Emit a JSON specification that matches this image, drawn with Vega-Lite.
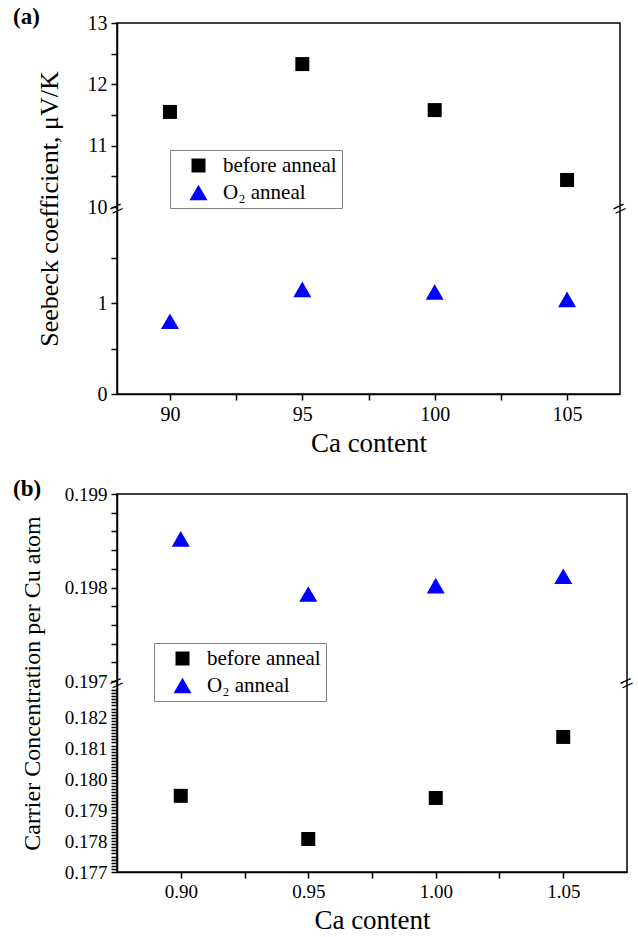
{
  "$schema": "https://vega.github.io/schema/vega-lite/v6.json",
  "padding": {"left": 12, "top": 5, "right": 5, "bottom": 5},
  "spacing": 20,
  "config": {
    "font": "Liberation Serif",
    "view": {"stroke": "black", "strokeWidth": 1.5},
    "axis": {"grid": false, "domainColor": "black", "domainWidth": 1.5, "tickColor": "black", "tickWidth": 1.5, "labelColor": "black", "titleColor": "black", "titleFontWeight": "normal", "labelFlush": false, "labelOverlap": false, "labelFont": "Liberation Serif", "titleFont": "Liberation Serif"},
    "legend": {"labelColor": "black", "labelFont": "Liberation Serif"},
    "title": {"color": "black", "font": "Liberation Serif"}
  },
  "resolve": {
    "scale": {"color": "independent", "shape": "independent", "size": "independent"},
    "legend": {"color": "independent", "shape": "independent", "size": "independent"}
  },
  "vconcat": [
    {
      "title": {"text": "(a)", "anchor": "start", "frame": "group", "fontSize": 23, "fontWeight": "bold", "dx": -104, "dy": 20},
      "width": 503,
      "height": 371,
      "data": {"values": [
        {"ca": 90, "s": 11.55, "series": "before anneal"},
        {"ca": 95, "s": 12.33, "series": "before anneal"},
        {"ca": 100, "s": 11.58, "series": "before anneal"},
        {"ca": 105, "s": 10.44, "series": "before anneal"},
        {"ca": 90, "s": 0.80, "series": "O₂ anneal"},
        {"ca": 95, "s": 1.15, "series": "O₂ anneal"},
        {"ca": 100, "s": 1.12, "series": "O₂ anneal"},
        {"ca": 105, "s": 1.04, "series": "O₂ anneal"}
      ]},
      "resolve": {"axis": {"x": "independent", "y": "independent"}},
      "layer": [
        {
          "mark": {"type": "point", "filled": true, "opacity": 1},
          "encoding": {
            "x": {"field": "ca", "type": "quantitative",
              "scale": {"domain": [88, 107], "nice": false, "zero": false},
              "axis": {"orient": "bottom", "values": [90, 92.5, 95, 97.5, 100, 102.5, 105],
                "labelExpr": "datum.value % 5 === 0 ? datum.label : ''", "tickSize": 6,
                "title": "Ca content", "titleFontSize": 27, "labelFontSize": 20, "labelPadding": 4, "titlePadding": 6}},
            "y": {"field": "s", "type": "quantitative",
              "scale": {"domain": [0, 2, 10, 13], "range": [371, 189, 184, 0], "nice": false, "zero": false},
              "axis": {"orient": "left", "values": [0, 0.5, 1, 1.5, 10, 10.5, 11, 11.5, 12, 12.5, 13],
                "labelExpr": "datum.value % 1 === 0 ? datum.label : ''", "tickSize": 6,
                "title": "Seebeck coefficient, μV/K", "titleFontSize": 26, "labelFontSize": 20, "labelPadding": 4, "titlePadding": 25}},
            "shape": {"field": "series", "type": "nominal",
              "scale": {"domain": ["before anneal", "O₂ anneal"], "range": ["square", "triangle-up"]},
              "legend": {"orient": "none", "legendX": 53, "legendY": 127, "title": null, "strokeColor": "#808080", "fillColor": "white", "padding": 5, "labelFontSize": 21, "labelFont": "Liberation Serif", "symbolOffset": 13, "labelOffset": 14, "rowPadding": 5}},
            "color": {"field": "series", "type": "nominal",
              "scale": {"domain": ["before anneal", "O₂ anneal"], "range": ["#000000", "#0000ff"]}},
            "size": {"field": "series", "type": "nominal",
              "scale": {"domain": ["before anneal", "O₂ anneal"], "range": [196, 324]}}
          }
        },
        {
          "data": {"values": [{"ca": 88, "s": 6, "t": "="}, {"ca": 107, "s": 6, "t": "="}]},
          "mark": {"type": "text", "angle": -25, "fontSize": 24, "align": "center", "baseline": "middle", "color": "black"},
          "encoding": {
            "x": {"field": "ca", "type": "quantitative", "axis": null},
            "y": {"field": "s", "type": "quantitative", "axis": null},
            "text": {"field": "t"}
          }
        }
      ]
    },
    {
      "title": {"text": "(b)", "anchor": "start", "frame": "group", "fontSize": 23, "fontWeight": "bold", "dx": -104, "dy": 20},
      "width": 510,
      "height": 378,
      "data": {"values": [
        {"ca": 0.90, "n": 0.17947, "series": "before anneal"},
        {"ca": 0.95, "n": 0.17807, "series": "before anneal"},
        {"ca": 1.00, "n": 0.1794, "series": "before anneal"},
        {"ca": 1.05, "n": 0.18138, "series": "before anneal"},
        {"ca": 0.90, "n": 0.19852, "series": "O₂ anneal"},
        {"ca": 0.95, "n": 0.19793, "series": "O₂ anneal"},
        {"ca": 1.00, "n": 0.19802, "series": "O₂ anneal"},
        {"ca": 1.05, "n": 0.19812, "series": "O₂ anneal"}
      ]},
      "resolve": {"axis": {"x": "independent", "y": "independent"}},
      "layer": [
        {
          "mark": {"type": "point", "filled": true, "opacity": 1},
          "encoding": {
            "x": {"field": "ca", "type": "quantitative",
              "scale": {"domain": [0.875, 1.075], "nice": false, "zero": false},
              "axis": {"orient": "bottom", "values": [0.9, 0.925, 0.95, 0.975, 1.0, 1.025, 1.05], "format": ".2f",
                "labelExpr": "abs(datum.value * 20 - round(datum.value * 20)) < 0.000001 ? datum.label : ''", "tickSize": 6,
                "title": "Ca content", "titleFontSize": 27, "labelFontSize": 19, "labelPadding": 4, "titlePadding": 6}},
            "y": {"field": "n", "type": "quantitative",
              "scale": {"domain": [0.177, 0.183, 0.197, 0.199], "range": [378, 193, 187, 0], "nice": false, "zero": false},
              "axis": {"orient": "left", "format": ".3f",
                "values": [0.177, 0.1771, 0.1772, 0.1773, 0.1774, 0.1775, 0.1776, 0.1777, 0.1778, 0.1779, 0.178, 0.1781, 0.1782, 0.1783, 0.1784, 0.1785, 0.1786, 0.1787, 0.1788, 0.1789, 0.179, 0.1791, 0.1792, 0.1793, 0.1794, 0.1795, 0.1796, 0.1797, 0.1798, 0.1799, 0.18, 0.1801, 0.1802, 0.1803, 0.1804, 0.1805, 0.1806, 0.1807, 0.1808, 0.1809, 0.181, 0.1811, 0.1812, 0.1813, 0.1814, 0.1815, 0.1816, 0.1817, 0.1818, 0.1819, 0.182, 0.1821, 0.1822, 0.1823, 0.1824, 0.1825, 0.1826, 0.1827, 0.1828, 0.1829, 0.197, 0.1972, 0.1974, 0.1976, 0.1978, 0.198, 0.1982, 0.1984, 0.1986, 0.1988, 0.199],
                "labelExpr": "abs(datum.value * 1000 - round(datum.value * 1000)) < 0.000001 ? datum.label : ''", "tickSize": 6,
                "title": "Carrier Concentration per Cu atom", "titleFontSize": 24, "labelFontSize": 19, "labelPadding": 4, "titlePadding": 20}},
            "shape": {"field": "series", "type": "nominal",
              "scale": {"domain": ["before anneal", "O₂ anneal"], "range": ["square", "triangle-up"]},
              "legend": {"orient": "none", "legendX": 37, "legendY": 149, "title": null, "strokeColor": "#808080", "fillColor": "white", "padding": 5, "labelFontSize": 21, "labelFont": "Liberation Serif", "symbolOffset": 13, "labelOffset": 14, "rowPadding": 5}},
            "color": {"field": "series", "type": "nominal",
              "scale": {"domain": ["before anneal", "O₂ anneal"], "range": ["#000000", "#0000ff"]}},
            "size": {"field": "series", "type": "nominal",
              "scale": {"domain": ["before anneal", "O₂ anneal"], "range": [196, 324]}}
          }
        },
        {
          "data": {"values": [{"ca": 0.875, "n": 0.19, "t": "="}, {"ca": 1.075, "n": 0.19, "t": "="}]},
          "mark": {"type": "text", "angle": -25, "fontSize": 24, "align": "center", "baseline": "middle", "color": "black"},
          "encoding": {
            "x": {"field": "ca", "type": "quantitative", "axis": null},
            "y": {"field": "n", "type": "quantitative", "axis": null},
            "text": {"field": "t"}
          }
        }
      ]
    }
  ]
}
